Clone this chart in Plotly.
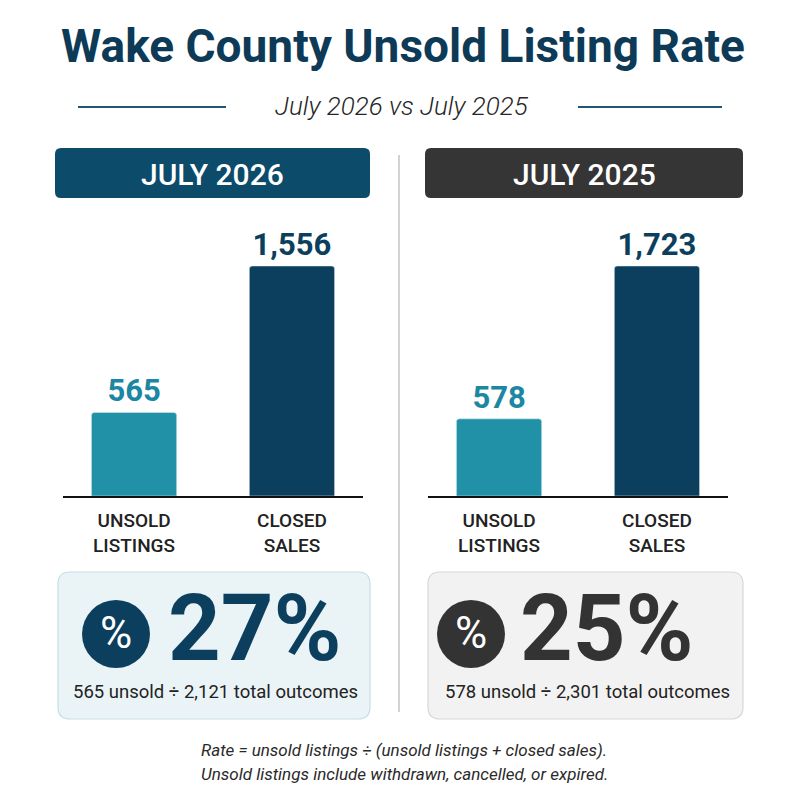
import plotly.graph_objects as go

# Data
categories = ['UNSOLD<br>LISTINGS', 'CLOSED<br>SALES']
periods = ['JULY 2026', 'JULY 2025']
unsold = [565, 578]
closed = [1556, 1723]

# Colors
NAVY = '#0c3f5d'
TEAL = '#2191a8'
TEAL_TXT = '#1b87a2'
DARK = '#333333'
bar_colors = [TEAL, NAVY]
label_colors = [TEAL_TXT, NAVY]

W = 800.0
OFF = 8  # page body margin in the browser


def X(px):
    return (px - OFF) / W


def Y(py):
    return 1 - (py - OFF) / W


def rrect(x0, y0, x1, y1, r):
    # rounded rectangle path in paper coords, input in pixels
    pts = [
        f"M {X(x0 + r)},{Y(y0)}",
        f"L {X(x1 - r)},{Y(y0)}",
        f"Q {X(x1)},{Y(y0)} {X(x1)},{Y(y0 + r)}",
        f"L {X(x1)},{Y(y1 - r)}",
        f"Q {X(x1)},{Y(y1)} {X(x1 - r)},{Y(y1)}",
        f"L {X(x0 + r)},{Y(y1)}",
        f"Q {X(x0)},{Y(y1)} {X(x0)},{Y(y1 - r)}",
        f"L {X(x0)},{Y(y0 + r)}",
        f"Q {X(x0)},{Y(y0)} {X(x0 + r)},{Y(y0)}",
        "Z",
    ]
    return " ".join(pts)


fig = go.Figure()

# Bars for each period
for i in range(2):
    vals = [unsold[i], closed[i]]
    fig.add_trace(go.Bar(
        x=categories,
        y=vals,
        xaxis='x' if i == 0 else 'x2',
        yaxis='y' if i == 0 else 'y2',
        marker=dict(color=bar_colors, cornerradius=3),
        text=[f"{v:,}" for v in vals],
        textposition='outside',
        textfont=dict(size=31, color=label_colors, family='Roboto', weight=700),
        cliponaxis=False,
        hoverinfo='skip',
        showlegend=False,
        width=0.54,
    ))

axis_common = dict(
    showgrid=False, zeroline=False, fixedrange=True,
)
xcommon = dict(
    axis_common,
    showline=True, linecolor='#111111', linewidth=2,
    range=[-0.45, 1.45],
    tickfont=dict(size=19, color='#222222', family='Roboto', weight=500),
    ticks='outside', ticklen=6, tickcolor='rgba(0,0,0,0)',
)
ycommon = dict(axis_common, showticklabels=False, domain=[Y(496), Y(220)])

fig.update_layout(
    width=800, height=800,
    margin=dict(l=0, r=0, t=0, b=0),
    paper_bgcolor='white',
    plot_bgcolor='rgba(0,0,0,0)',
    xaxis=dict(xcommon, domain=[X(63), X(363)], anchor='y'),
    xaxis2=dict(xcommon, domain=[X(428), X(728)], anchor='y2'),
    yaxis=dict(ycommon, range=[0, closed[0] * 1.2], anchor='x'),
    yaxis2=dict(ycommon, range=[0, closed[1] * 1.2], anchor='x2'),
    font=dict(family='Roboto'),
)

shapes = []
annotations = []

# Title and subtitle
annotations.append(dict(
    text='Wake County Unsold Listing Rate', x=X(403), y=Y(46),
    font=dict(size=46, color='#0d3a56', family='Roboto', weight=700),
))
annotations.append(dict(
    text='July 2026 vs July 2025', x=X(402), y=Y(106),
    font=dict(size=26, color='#262626', family='Roboto', style='italic', weight=300),
))
for x0, x1 in [(78, 226), (578, 722)]:
    shapes.append(dict(type='line', x0=X(x0), x1=X(x1), y0=Y(107), y1=Y(107),
                       line=dict(color='#1f5674', width=2)))

# Vertical divider
shapes.append(dict(type='line', x0=X(399), x1=X(399), y0=Y(155), y1=Y(712),
                   line=dict(color='#b5b5b5', width=1.2)))

# Panels
header_colors = ['#0d4b6a', '#353535']
box_fill = ['#eaf4f7', '#f2f2f2']
box_line = ['#c3dfe6', '#d8d8d8']
circle_colors = [NAVY, DARK]
big_colors = [NAVY, DARK]
panel_x = [(55, 370), (425, 743)]
circle_cx = [116, 471]
big_cx = [255, 607]

for i in range(2):
    x0, x1 = panel_x[i]
    cx = (x0 + x1) / 2
    # header
    shapes.append(dict(type='path', path=rrect(x0, 148, x1, 198, 6),
                       fillcolor=header_colors[i], line=dict(width=0)))
    annotations.append(dict(
        text=periods[i], x=X(cx), y=Y(174),
        font=dict(size=30, color='white', family='Roboto', weight=500),
    ))
    # rate box
    shapes.append(dict(type='path', path=rrect(x0 + 3, 572, x1, 719, 12),
                       fillcolor=box_fill[i], line=dict(color=box_line[i], width=1.2)))
    c = circle_cx[i]
    shapes.append(dict(type='circle', x0=X(c - 34), x1=X(c + 34), y0=Y(668), y1=Y(600),
                       fillcolor=circle_colors[i], line=dict(width=0)))
    annotations.append(dict(
        text='%', x=X(c), y=Y(633),
        font=dict(size=44, color='white', family='Roboto', weight=400),
    ))
    total = unsold[i] + closed[i]
    rate = round(100 * unsold[i] / total)
    annotations.append(dict(
        text=f'{rate}%', x=X(big_cx[i]), y=Y(628),
        font=dict(size=92, color=big_colors[i], family='Roboto', weight=700),
    ))
    annotations.append(dict(
        text=f'{unsold[i]:,} unsold ÷ {total:,} total outcomes',
        x=X(cx + 3), y=Y(692),
        font=dict(size=18.5, color='#222222', family='Roboto'),
    ))

# Footnote
annotations.append(dict(
    text='Rate = unsold listings ÷ (unsold listings + closed sales).', x=X(404), y=Y(750),
    font=dict(size=17, color='#2a2a2a', family='Roboto', style='italic', weight=400),
))
annotations.append(dict(
    text='Unsold listings include withdrawn, cancelled, or expired.', x=X(404), y=Y(774),
    font=dict(size=17, color='#2a2a2a', family='Roboto', style='italic', weight=400),
))

for a in annotations:
    a.update(xref='paper', yref='paper', showarrow=False, xanchor='center', yanchor='middle')
for s in shapes:
    s.update(xref='paper', yref='paper', layer='below')

fig.update_layout(shapes=shapes, annotations=annotations)

fig.write_html("out.html")
